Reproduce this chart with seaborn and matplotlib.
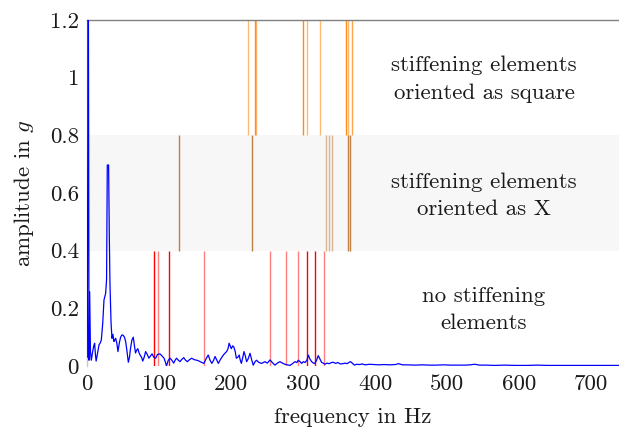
import matplotlib
matplotlib.use("Agg")
import matplotlib.pyplot as plt
import seaborn as sns
import pandas as pd

# ---------------- data ----------------
freq_low = [0, 1.4, 2.4, 3.3, 4.4, 5.6, 7.5, 9, 10.2, 11.3,
            12.3, 14, 16.3, 18, 19.5, 21.5, 23.2, 25.5, 26.8, 27.8,
            29.6, 30.6, 31.5, 33, 34.3, 35.6, 37, 38.2, 39.4, 41,
            42.6, 44.5, 46.3, 48.2, 50, 51.6, 53.3, 55.2, 57, 58.6,
            60, 62, 63.9, 65.5, 67, 68.6, 70.2, 72, 74, 75.5,
            77, 79, 81, 83.3, 85.6, 87.8, 90, 92.5, 95, 97.5,
            101, 103.8, 106.6, 108.3, 110, 112.5, 115]
amp_low = [0.03, 1.5, 0.02, 0.258, 0.05, 0.02, 0.05, 0.07, 0.079, 0.04,
           0.017, 0.04, 0.073, 0.08, 0.09, 0.15, 0.229, 0.252, 0.30, 0.697,
           0.697, 0.45, 0.287, 0.15, 0.096, 0.11, 0.085, 0.09, 0.096, 0.08,
           0.05, 0.08, 0.10, 0.108, 0.106, 0.10, 0.085, 0.05, 0.013, 0.03,
           0.06, 0.09, 0.10, 0.07, 0.045, 0.055, 0.06, 0.045, 0.035, 0.03,
           0.017, 0.03, 0.05, 0.04, 0.027, 0.035, 0.042, 0.03, 0.027, 0.04,
           0.042, 0.035, 0.027, 0.015, 0.0, 0.02, 0.027]

freq_mid = [117.5, 120, 122, 124, 126.5, 128.7, 131, 134, 136.5, 139,
            142, 145, 148.5, 152, 154.5, 156.7, 159.5, 162, 165, 168,
            170.5, 173, 175.5, 177.5, 180, 182, 185.5, 189, 191.5, 193.5,
            195.5, 197, 198.5, 200, 202, 203.5, 205.5, 207, 209, 211,
            212.5, 214, 216, 217.6, 219.5, 221.3, 223.5, 226, 228.5, 230.5,
            233, 235, 238.5, 242, 244.5, 246.6, 250, 253.8, 257, 260.7,
            264, 267.6, 271, 274.5, 278, 281.5, 285, 288.4, 291, 293,
            295.5, 297.7, 300, 302.5, 305, 307, 309, 311.6, 314, 316,
            318.5, 320.7, 323, 325.3, 327.5, 330, 333, 336, 339, 341.5,
            345, 348, 351.5, 355, 358, 361, 363, 365.6, 368, 371,
            374, 378, 382, 386, 392, 398]
amp_mid = [0.02, 0.01, 0.02, 0.027, 0.02, 0.015, 0.022, 0.029, 0.02, 0.015,
           0.022, 0.027, 0.022, 0.02, 0.018, 0.015, 0.012, 0.009, 0.025, 0.038,
           0.02, 0.009, 0.02, 0.033, 0.02, 0.009, 0.025, 0.038, 0.045, 0.05,
           0.06, 0.079, 0.07, 0.06, 0.07, 0.066, 0.05, 0.027, 0.03, 0.038,
           0.02, 0.009, 0.03, 0.05, 0.035, 0.015, 0.025, 0.044, 0.02, 0.003,
           0.015, 0.02, 0.012, 0.009, 0.012, 0.015, 0.01, 0.021, 0.012, 0.003,
           0.01, 0.015, 0.01, 0.006, 0.004, 0.002, 0.008, 0.015, 0.012, 0.02,
           0.015, 0.009, 0.015, 0.012, 0.02, 0.038, 0.025, 0.015, 0.01, 0.009,
           0.02, 0.036, 0.025, 0.013, 0.01, 0.006, 0.01, 0.008, 0.012, 0.013,
           0.009, 0.012, 0.007, 0.008, 0.01, 0.008, 0.012, 0.015, 0.01, 0.003,
           0.006, 0.005, 0.007, 0.004, 0.006, 0.005]

freq_high = [405, 412, 420, 428, 432, 438, 445, 455, 465, 475,
             485, 495, 505, 515, 525, 532, 538, 545, 555, 565,
             580, 595, 610, 625, 640, 655, 670, 685, 700, 715,
             730, 740]
amp_high = [0.004, 0.005, 0.004, 0.005, 0.008, 0.004, 0.004, 0.003, 0.004, 0.003,
            0.003, 0.004, 0.003, 0.003, 0.003, 0.004, 0.006, 0.003, 0.003, 0.002,
            0.003, 0.002, 0.002, 0.003, 0.002, 0.002, 0.002, 0.002, 0.002, 0.002,
            0.002, 0.002]

# natural frequencies of the three configurations
freq_none = [93, 98.6, 114, 162, 253.8, 276, 292.6, 305.8, 315.6, 328.3]
freq_x = [128, 228.8, 331.5, 335.3, 339.9, 362.5, 364.4]
freq_square = [222.8, 232.5, 234.7, 300, 305.1, 322.8, 358.9, 362.1, 368]

band_none = (0.0, 0.4)
band_x = (0.4, 0.8)
band_square = (0.8, 1.2)

labels_band = ["no stiffening\nelements",
               "stiffening elements\noriented as X",
               "stiffening elements\noriented as square"]
label_y = [0.195, 0.59, 0.995]

xticks = [0, 100, 200, 300, 400, 500, 600, 700]
yticks = [0, 0.2, 0.4, 0.6, 0.8, 1.0, 1.2]
ytick_labels = ["0", "0.2", "0.4", "0.6", "0.8", "1", "1.2"]

# ---------------- style ----------------
alpha_none = [1, .5, 1, .5, .5, .5, .5, 1, 1, .5]
alpha_x = [0.9, 0.9, 0.5, 0.5, 0.5, 0.9, 0.9]
alpha_square = [0.55, 0.85, 0.55, 0.9, 0.55, 0.55, 0.9, 0.55, 0.7]

sns.set_theme(style="white")
plt.rcParams["font.family"] = ["cmr10", "DejaVu Serif"]
plt.rcParams["mathtext.fontset"] = "cm"
plt.rcParams["axes.formatter.use_mathtext"] = True
FS = 16.5

df = pd.DataFrame({"freq": freq_low + freq_mid + freq_high,
                   "amp": amp_low + amp_mid + amp_high})

fig = plt.figure(figsize=(6.19, 4.32), dpi=100)
ax = fig.add_axes([0.141, 0.1528, 0.859, 0.8009])

ax.axhspan(band_x[0], band_x[1], color="#f7f7f7", lw=0, zorder=0)

for f, a in zip(freq_none, alpha_none):
    ax.vlines(f, band_none[0], band_none[1], color="#ff0000", alpha=a, lw=1.0, zorder=2)
for f, a in zip(freq_x, alpha_x):
    ax.vlines(f, band_x[0], band_x[1], color="#b8742f", alpha=a, lw=1.0, zorder=2)
for f, a in zip(freq_square, alpha_square):
    ax.vlines(f, band_square[0], band_square[1], color="#ff8000", alpha=a, lw=1.0, zorder=2)

sns.lineplot(data=df, x="freq", y="amp", ax=ax, color="#0000ff", lw=0.9,
             sort=False, estimator=None, zorder=3)

for txt, yv in zip(labels_band, label_y):
    ax.text(551, yv, txt, ha="center", va="center", fontsize=FS,
            color="#1a1a1a", linespacing=1.5)

ax.set_xlim(0, 738.5)
ax.set_ylim(0, 1.2)
ax.set_xticks(xticks)
ax.set_xticklabels([str(t) for t in xticks])
ax.set_yticks(yticks)
ax.set_yticklabels(ytick_labels)
ax.tick_params(axis="both", length=0, labelsize=FS, colors="#1a1a1a", pad=6)
ax.set_xlabel("frequency in Hz", fontsize=FS, color="#1a1a1a", labelpad=10)
ax.set_ylabel("amplitude in $g$", fontsize=FS, color="#1a1a1a", labelpad=10)

for s in ["right", "bottom"]:
    ax.spines[s].set_visible(False)
ax.spines["top"].set_color("#808080")
ax.spines["top"].set_linewidth(1.0)
ax.spines["left"].set_color("#c8c8c8")
ax.spines["left"].set_linewidth(1.0)

fig.savefig("out.png", dpi=100)
